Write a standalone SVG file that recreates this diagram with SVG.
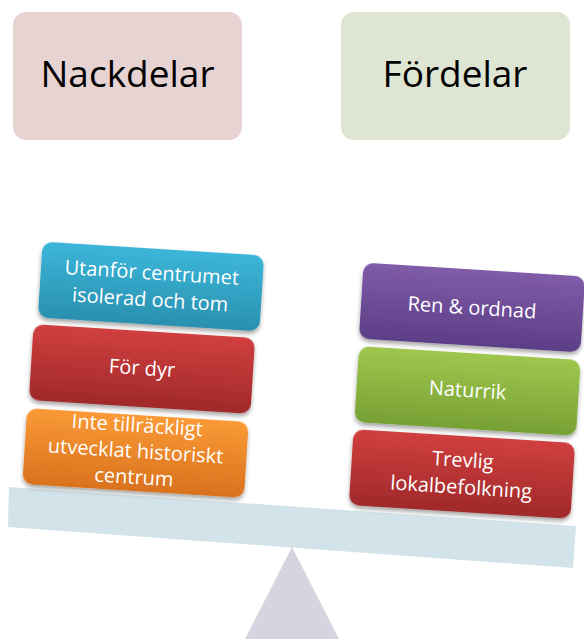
<svg xmlns="http://www.w3.org/2000/svg" width="584" height="639" viewBox="0 0 584 639">
<style>
.title{font-family:"Open Sans","Noto Sans",sans-serif;font-size:37px;fill:#000;text-anchor:middle}
.lbl{font-family:"Open Sans","Noto Sans",sans-serif;font-size:20px;fill:#fff;text-anchor:middle}
.box{filter:url(#sh)}
</style>
<defs>
<filter id="sh" x="-10%" y="-10%" width="120%" height="130%">
<feDropShadow dx="0" dy="3" stdDeviation="2" flood-color="#000" flood-opacity="0.35"/>
</filter>
<linearGradient id="gCyan" x1="0" y1="0" x2="0" y2="1"><stop offset="0" stop-color="#3cb6da"/><stop offset="1" stop-color="#2990ae"/></linearGradient>
<linearGradient id="gRed" x1="0" y1="0" x2="0" y2="1"><stop offset="0" stop-color="#d13f3f"/><stop offset="1" stop-color="#a0292a"/></linearGradient>
<linearGradient id="gOrange" x1="0" y1="0" x2="0" y2="1"><stop offset="0" stop-color="#fa9a36"/><stop offset="1" stop-color="#d9721e"/></linearGradient>
<linearGradient id="gPurple" x1="0" y1="0" x2="0" y2="1"><stop offset="0" stop-color="#805ca8"/><stop offset="1" stop-color="#5c3e86"/></linearGradient>
<linearGradient id="gGreen" x1="0" y1="0" x2="0" y2="1"><stop offset="0" stop-color="#9fc74e"/><stop offset="1" stop-color="#77a134"/></linearGradient>
</defs>

<g id="fulcrum"><polygon points="292,547 245,639 339,639" fill="#d8d3e1"/></g>
<g id="beam"><polygon points="9,487 576,526 573,568 8,527" fill="#d2e3e9"/></g>

<g id="nackdelar">
<rect x="13" y="12" width="229" height="128" rx="13" fill="#e8d3d3"/>
<text class="title" x="127.5" y="87">Nackdelar</text>
</g>
<g id="fordelar">
<rect x="341" y="12" width="229" height="128" rx="13" fill="#dee5d2"/>
<text class="title" x="455" y="87">Fördelar</text>
</g>

<g id="utanfor" transform="translate(151,286.5) rotate(3.6)">
<rect class="box" x="-111" y="-38" width="222" height="76" rx="10" fill="url(#gCyan)"/>
<text class="lbl" x="0" y="-7">Utanför centrumet</text>
<text class="lbl" x="0" y="20">isolerad och tom</text>
</g>
<g id="fordyr" transform="translate(142,369) rotate(3.6)">
<rect class="box" x="-111" y="-38" width="222" height="76" rx="10" fill="url(#gRed)"/>
<text class="lbl" x="0" y="6">För dyr</text>
</g>
<g id="inte" transform="translate(135.5,453) rotate(3.6)">
<rect class="box" x="-111" y="-38" width="222" height="76" rx="10" fill="url(#gOrange)"/>
<text class="lbl" x="0" y="-21">Inte tillräckligt</text>
<text class="lbl" x="0" y="5">utvecklat historiskt</text>
<text class="lbl" x="0" y="31">centrum</text>
</g>

<g id="ren" transform="translate(472,307.5) rotate(3.6)">
<rect class="box" x="-111" y="-38" width="222" height="76" rx="10" fill="url(#gPurple)"/>
<text class="lbl" x="0" y="7">Ren &amp; ordnad</text>
</g>
<g id="naturrik" transform="translate(467.5,391) rotate(3.6)">
<rect class="box" x="-111" y="-38" width="222" height="76" rx="10" fill="url(#gGreen)"/>
<text class="lbl" x="0" y="6">Naturrik</text>
</g>
<g id="trevlig" transform="translate(462,474) rotate(3.6)">
<rect class="box" x="-111" y="-38" width="222" height="76" rx="10" fill="url(#gRed)"/>
<text class="lbl" x="0" y="-7">Trevlig</text>
<text class="lbl" x="0" y="20">lokalbefolkning</text>
</g>
<g id="connectors"/>
</svg>
